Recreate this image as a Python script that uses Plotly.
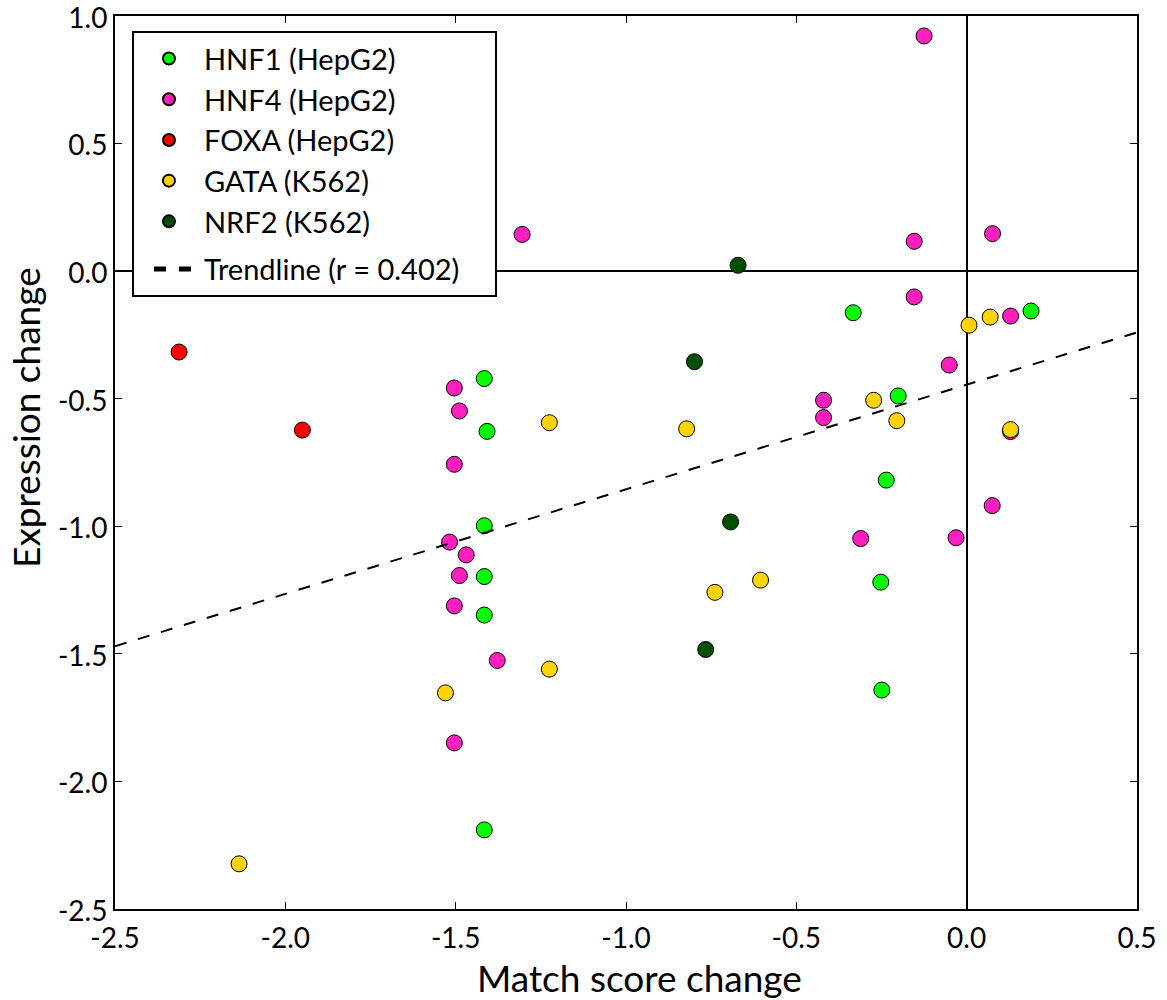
import plotly.graph_objects as go

# Match score change (x) vs. expression change (y) per motif group
hnf1_x = [0.189, -0.333, -0.201, -0.236, -0.252, -0.249, -1.416, -1.408, -1.416, -1.416, -1.416, -1.416]
hnf1_y = [-0.156, -0.163, -0.489, -0.819, -1.219, -1.642, -0.421, -0.628, -0.998, -1.197, -1.348, -2.190]

hnf4_x = [-0.125, -0.154, 0.076, -1.305, -0.154, 0.129, -0.051, -0.420, -0.420, -0.311, -0.031,
          0.075, 0.129, -1.504, -1.489, -1.504, -1.518, -1.469, -1.489, -1.504, -1.378, -1.504]
hnf4_y = [0.922, 0.117, 0.147, 0.144, -0.101, -0.176, -0.368, -0.506, -0.574, -1.048, -1.045,
          -0.919, -0.629, -0.458, -0.548, -0.757, -1.062, -1.112, -1.193, -1.312, -1.526, -1.849]

foxa_x = [-2.312, -1.950]
foxa_y = [-0.317, -0.623]

gata_x = [-2.136, -1.530, -1.225, -1.225, -0.822, -0.739, -0.605, -0.273, -0.205, 0.007, 0.069, 0.129]
gata_y = [-2.323, -1.653, -1.560, -0.594, -0.618, -1.259, -1.211, -0.506, -0.586, -0.212, -0.180, -0.621]

nrf2_x = [-0.671, -0.799, -0.693, -0.766]
nrf2_y = [0.023, -0.355, -0.983, -1.483]

# Least-squares trendline coefficients
trend_slope = 0.410
trend_intercept = -0.445
trend_r = 0.402

x_ticks = [-2.5, -2.0, -1.5, -1.0, -0.5, 0.0, 0.5]
x_tick_labels = ["-2.5", "-2.0", "-1.5", "-1.0", "-0.5", "0.0", "0.5"]
y_ticks = [-2.5, -2.0, -1.5, -1.0, -0.5, 0.0, 0.5, 1.0]
y_tick_labels = ["-2.5", "-2.0", "-1.5", "-1.0", "-0.5", "0.0", "0.5", "1.0"]

x_range = [-2.5, 0.5]
y_range = [-2.5, 1.0]
EDGE = 1e-4  # tiny padding so the end ticks stay labelled

groups = [
    ("HNF1 (HepG2)", hnf1_x, hnf1_y, "#00ff00"),
    ("HNF4 (HepG2)", hnf4_x, hnf4_y, "#ff1fbf"),
    ("FOXA (HepG2)", foxa_x, foxa_y, "#ff0000"),
    ("GATA (K562)", gata_x, gata_y, "#ffd400"),
    ("NRF2 (K562)", nrf2_x, nrf2_y, "#005000"),
]

FONT = "Lato"

fig = go.Figure()
for name, xs, ys, color in groups:
    fig.add_trace(go.Scatter(
        x=xs, y=ys, mode="markers", name=name, legendgroup="motifs",
        marker=dict(size=16, color=color, line=dict(color="black", width=1)),
    ))

trend_x = list(x_range)
trend_y = [trend_slope * v + trend_intercept for v in trend_x]
trend_name = f"Trendline (r = {trend_r:.3f})"
fig.add_trace(go.Scatter(
    x=trend_x, y=trend_y, mode="lines", name=trend_name,
    legendgroup="trend", showlegend=False,
    line=dict(color="black", width=2, dash="12px,12px"),
))
# legend key for the trendline: two short dashes centred on the swatch;
# trailing non-breaking spaces give the legend box its right-hand padding
fig.add_trace(go.Scatter(
    x=[None], y=[None], mode="lines", name=trend_name + "\u00a0" * 4,
    legendgroup="trend",
    line=dict(color="black", width=2, dash="0px,15px,12px,13px,12px,60px"),
))

axis_common = dict(
    showline=True, linecolor="black", linewidth=2, mirror="ticks",
    ticks="inside", ticklen=7, tickwidth=1, tickcolor="black",
    showgrid=False, zeroline=True, zerolinecolor="black", zerolinewidth=1.5,
    tickfont=dict(family=FONT, size=28, color="black"),
    ticklabeloverflow="allow", automargin=False,
)

fig.update_xaxes(range=[x_range[0] - EDGE, x_range[1] + EDGE],
                 tickvals=x_ticks, ticktext=x_tick_labels, ticklabelstandoff=3,
                 **axis_common)
fig.update_yaxes(range=[y_range[0] - EDGE, y_range[1] + EDGE],
                 tickvals=y_ticks, ticktext=y_tick_labels, ticklabelshift=2,
                 **axis_common)

fig.add_annotation(text="Match score change", xref="paper", yref="paper",
                   x=0.513, y=-0.077, xanchor="center", yanchor="middle",
                   showarrow=False, font=dict(family=FONT, size=37, color="black"))
fig.add_annotation(text="Expression change", xref="paper", yref="paper",
                   x=-0.087, y=0.55, xanchor="center", yanchor="middle", textangle=-90,
                   showarrow=False, font=dict(family=FONT, size=37, color="black"))

fig.update_layout(
    width=1167, height=1000, autosize=False,
    margin=dict(l=115, r=30, t=16, b=91, autoexpand=False),
    plot_bgcolor="white", paper_bgcolor="white",
    font=dict(family=FONT, color="black"),
    legend=dict(
        x=0.0166, y=0.983, xanchor="left", yanchor="top",
        bgcolor="white", bordercolor="black", borderwidth=2,
        font=dict(family=FONT, size=29, color="black"),
        itemsizing="constant", itemwidth=60, tracegroupgap=7,
    ),
)

fig.write_html("out.html")
